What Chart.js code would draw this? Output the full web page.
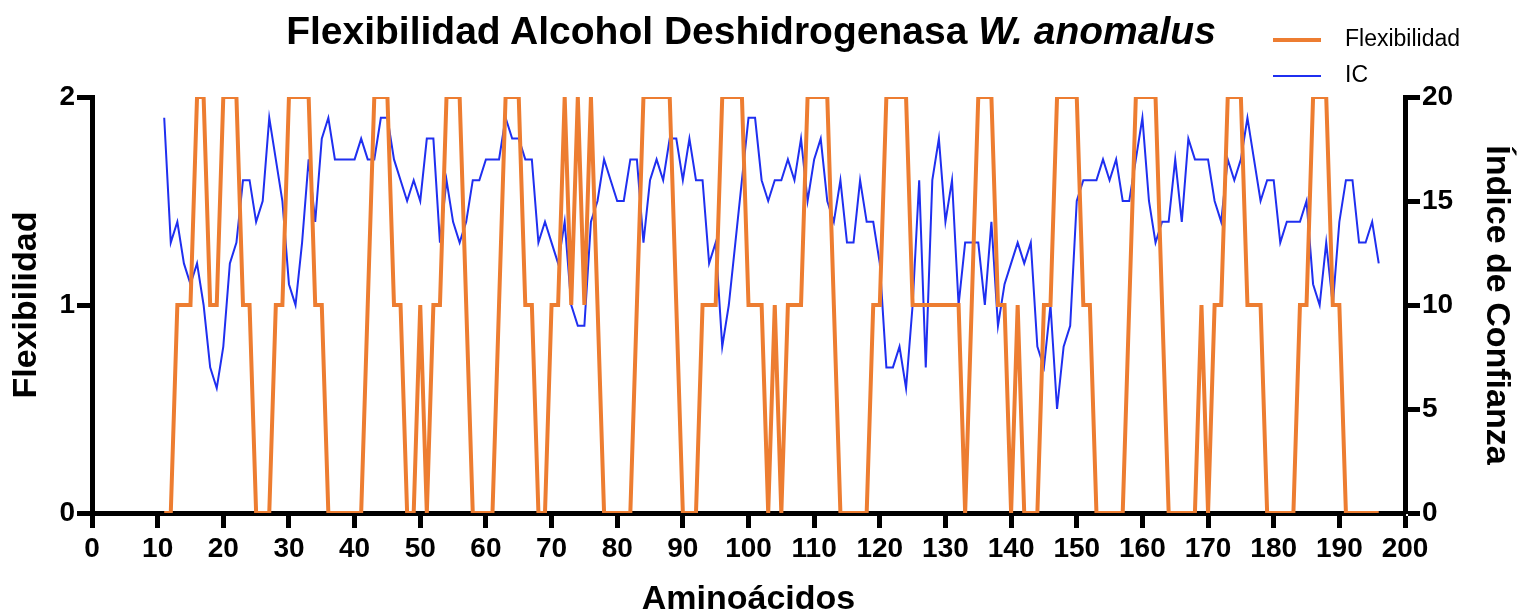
<!DOCTYPE html>
<html lang="es">

<head>
    <meta charset="UTF-8">
    <title>Flexibilidad Alcohol Deshidrogenasa</title>
    <style>
        body {
            margin: 0;
            background: #fff;
            font-family: 'Liberation Sans', Arial, sans-serif;
        }

        #wrap {
            position: relative;
            width: 1521px;
            height: 615px;
        }

        #titulo {
            position: absolute;
            left: 0;
            top: 11px;
            width: 1502px;
            text-align: center;
            font-size: 39px;
            line-height: 39px;
            font-weight: bold;
            white-space: nowrap;
        }

        .ley {
            position: absolute;
            left: 1273px;
            font-size: 23px;
            line-height: 23px;
        }

        .ley span {
            display: inline-block;
            width: 48px;
            vertical-align: middle;
            margin-right: 24px;
        }
    </style>
</head>

<body>
    <div id="wrap">
        <canvas id="myChart" width="1521" height="615"></canvas>
        <div id="titulo">Flexibilidad Alcohol Deshidrogenasa <i>W. anomalus</i></div>
        <div class="ley" style="top:27px"><span style="height:4px;background:#ED7D31"></span>Flexibilidad</div>
        <div class="ley" style="top:63px"><span style="height:2px;background:#1F2FF0"></span>IC</div>
    </div>

    <script src="https://cdn.jsdelivr.net/npm/chart.js"></script>

    <script>
        // posiciones de aminoacidos (11 a 196)
        const aminoacidos = [];
        for (let i = 11; i <= 196; i++) aminoacidos.push(i);

        const flexibilidad = [
            0, 0, 1, 1, 1, 2, 2, 1, 1, 2,
            2, 2, 1, 1, 0, 0, 0, 1, 1, 2,
            2, 2, 2, 1, 1, 0, 0, 0, 0, 0,
            0, 1, 2, 2, 2, 1, 1, 0, 0, 1,
            0, 1, 1, 2, 2, 2, 1, 0, 0, 0,
            0, 1, 2, 2, 2, 1, 1, 0, 0, 1,
            1, 2, 1, 2, 1, 2, 1, 0, 0, 0,
            0, 0, 1, 2, 2, 2, 2, 2, 1, 0,
            0, 0, 1, 1, 1, 2, 2, 2, 2, 1,
            1, 1, 0, 1, 0, 1, 1, 1, 2, 2,
            2, 2, 1, 0, 0, 0, 0, 0, 1, 1,
            2, 2, 2, 2, 1, 1, 1, 1, 1, 1,
            1, 1, 0, 1, 2, 2, 2, 1, 1, 0,
            1, 0, 0, 0, 1, 1, 2, 2, 2, 2,
            1, 1, 0, 0, 0, 0, 0, 1, 2, 2,
            2, 2, 1, 0, 0, 0, 0, 0, 1, 0,
            1, 1, 2, 2, 2, 1, 1, 1, 0, 0,
            0, 0, 0, 1, 1, 2, 2, 2, 1, 1,
            0, 0, 0, 0, 0, 0
        ];

        const ic = [
            19, 13, 14, 12, 11, 12, 10, 7, 6, 8,
            12, 13, 16, 16, 14, 15, 19, 17, 15, 11,
            10, 13, 17, 14, 18, 19, 17, 17, 17, 17,
            18, 17, 17, 19, 19, 17, 16, 15, 16, 15,
            18, 18, 13, 16, 14, 13, 14, 16, 16, 17,
            17, 17, 19, 18, 18, 17, 17, 13, 14, 13,
            12, 14, 10, 9, 9, 14, 15, 17, 16, 15,
            15, 17, 17, 13, 16, 17, 16, 18, 18, 16,
            18, 16, 16, 12, 13, 8, 10, 13, 16, 19,
            19, 16, 15, 16, 16, 17, 16, 18, 15, 17,
            18, 15, 14, 16, 13, 13, 16, 14, 14, 12,
            7, 7, 8, 6, 10, 16, 7, 16, 18, 14,
            16, 10, 13, 13, 13, 10, 14, 9, 11, 12,
            13, 12, 13, 8, 7, 10, 5, 8, 9, 15,
            16, 16, 16, 17, 16, 17, 15, 15, 17, 19,
            15, 13, 14, 14, 17, 14, 18, 17, 17, 17,
            15, 14, 17, 16, 17, 19, 17, 15, 16, 16,
            13, 14, 14, 14, 15, 11, 10, 13, 10, 14,
            16, 16, 13, 13, 14, 12
        ];

        const ticksX = [0, 10, 20, 30, 40, 50, 60, 70, 80, 90, 100, 110, 120, 130, 140, 150, 160, 170, 180, 190, 200];
        const ticksFlex = [0, 1, 2];
        const ticksIC = [0, 5, 10, 15, 20];

        const fuente = "'Liberation Sans', Arial, sans-serif";

        function ejeGrid() {
            return {
                drawOnChartArea: false,
                drawTicks: true,
                tickLength: 15,
                tickWidth: 5,
                tickColor: '#000'
            };
        }

        const ctx = document.getElementById('myChart');

        let config = {
            type: 'line',
            data: {
                labels: aminoacidos,
                datasets: [
                    {
                        label: 'Flexibilidad', data: flexibilidad, yAxisID: 'y',
                        borderColor: '#ED7D31', borderWidth: 4, pointRadius: 0, tension: 0
                    },
                    {
                        label: 'IC', data: ic, yAxisID: 'y1',
                        borderColor: '#1F2FF0', borderWidth: 2, pointRadius: 0, tension: 0
                    }
                ]
            },
            options: {
                responsive: false,
                animation: false,
                layout: { padding: { top: 97, left: 0, right: 0, bottom: 0 } },
                plugins: {
                    legend: { display: false },
                    title: { display: false },
                    tooltip: { enabled: false }
                },
                scales: {
                    x: {
                        type: 'linear', min: 0, max: 200,
                        afterBuildTicks: s => { s.ticks = ticksX.map(v => ({ value: v })); },
                        afterFit: s => { s.height = 102; },
                        border: { display: true, width: 5, color: '#000' },
                        grid: ejeGrid(),
                        ticks: {
                            color: '#000', padding: 4, autoSkip: false, maxRotation: 0,
                            font: { family: fuente, size: 28, weight: 'bold' }
                        },
                        title: {
                            display: true, text: 'Aminoácidos', color: '#000', padding: { top: 0, bottom: -5 },
                            font: { family: fuente, size: 34, weight: 'bold' }
                        }
                    },
                    y: {
                        position: 'left', min: 0, max: 2,
                        afterBuildTicks: s => { s.ticks = ticksFlex.map(v => ({ value: v })); },
                        afterFit: s => { s.width = 92; },
                        border: { display: true, width: 5, color: '#000' },
                        grid: ejeGrid(),
                        ticks: {
                            color: '#000', padding: 2,
                            font: { family: fuente, size: 28, weight: 'bold' }
                        },
                        title: {
                            display: true, text: 'Flexibilidad', color: '#000', padding: { top: 6, bottom: 0 },
                            font: { family: fuente, size: 34, weight: 'bold' }
                        }
                    },
                    y1: {
                        position: 'right', min: 0, max: 20,
                        afterBuildTicks: s => { s.ticks = ticksIC.map(v => ({ value: v })); },
                        afterFit: s => { s.width = 116; },
                        border: { display: true, width: 5, color: '#000' },
                        grid: ejeGrid(),
                        ticks: {
                            color: '#000', padding: 2,
                            font: { family: fuente, size: 28, weight: 'bold' }
                        },
                        title: {
                            display: true, text: 'Índice de Confianza', color: '#000', padding: { top: 4, bottom: 0 },
                            font: { family: fuente, size: 34, weight: 'bold' }
                        }
                    }
                }
            }
        };

        let myChart = new Chart(ctx, config);
    </script>
</body>

</html>
